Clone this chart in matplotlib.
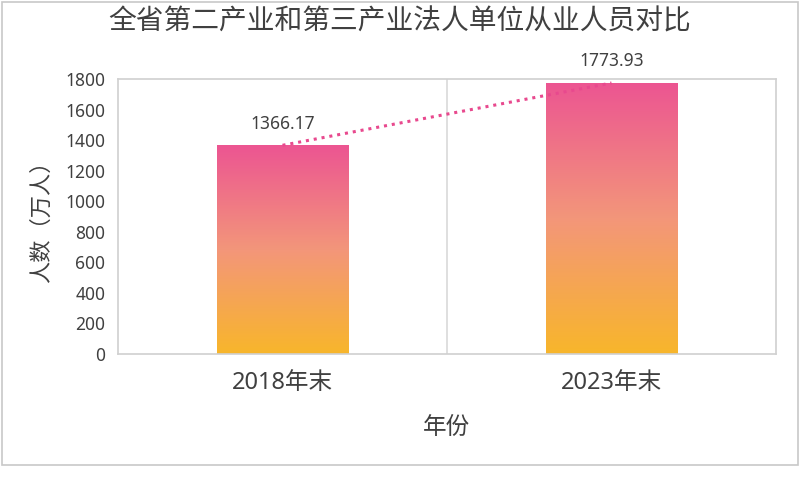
import matplotlib
matplotlib.use("Agg")
import matplotlib.pyplot as plt
import numpy as np
from matplotlib.colors import LinearSegmentedColormap

plt.rcParams['font.family'] = ['Noto Sans', 'Noto Sans CJK SC', 'DejaVu Sans']

categories = ["2018年末", "2023年末"]
values = [1366.17, 1773.93]
labels = ["1366.17", "1773.93"]
title = "全省第二产业和第三产业法人单位从业人员对比"
ylabel = "人数（万人）"
xlabel = "年份"
yticks = [0, 200, 400, 600, 800, 1000, 1200, 1400, 1600, 1800]

fig = plt.figure(figsize=(8, 4.8), dpi=100)
ax = fig.add_axes([118/800, 1-354/480, (776-118)/800, (354-79)/480])

# figure border
fig.patches.append(plt.Rectangle((2/800, 1-465/480), 796/800, 463/480,
                                 transform=fig.transFigure, fill=False,
                                 edgecolor="#C8C8C8", linewidth=1.2))

cmap = LinearSegmentedColormap.from_list("g", ["#F8B62B", "#F3967A", "#EC5592"])
x = np.arange(len(categories))
bars = ax.bar(x, values, width=0.4, color="none", edgecolor="none", zorder=2)
grad = np.linspace(0, 1, 256).reshape(-1, 1)
for b in bars:
    x0, w, h = b.get_x(), b.get_width(), b.get_height()
    im = ax.imshow(grad, extent=[x0, x0 + w, 0, h], origin="lower",
                   cmap=cmap, aspect="auto", zorder=2)
    im.set_clip_path(b)

ax.plot(x, values, linestyle=(0, (1, 1.6)), color="#E8498E", linewidth=2.2, zorder=3)

for xi, v, lab in zip(x, values, labels):
    ax.annotate(lab, (xi, v), xytext=(0, 9), textcoords="offset points",
                ha="center", va="bottom", fontsize=12.5, color="#404040")

ax.set_xlim(-0.5, 1.5)
ax.set_ylim(0, 1800)
ax.set_yticks(yticks)
ax.set_yticklabels([str(t) for t in yticks], fontsize=12.5, color="#404040")
ax.set_xticks(x)
ax.set_xticklabels(categories, fontsize=17, color="#404040")
ax.tick_params(length=0, pad=9)
ax.tick_params(axis='x', pad=12)
ax.axvline(0.5, color="#D9D9D9", linewidth=1.2, zorder=1)
for s in ax.spines.values():
    s.set_color("#D0D0D0")
    s.set_linewidth(1.2)

ax.set_ylabel(ylabel, fontsize=16, color="#404040", labelpad=9)
ax.set_xlabel(xlabel, fontsize=17, color="#404040", labelpad=15)
fig.text(400/800, 1-23/480, title, ha="center", va="center", fontsize=20, color="#404040")

fig.savefig("out.png", dpi=100)
